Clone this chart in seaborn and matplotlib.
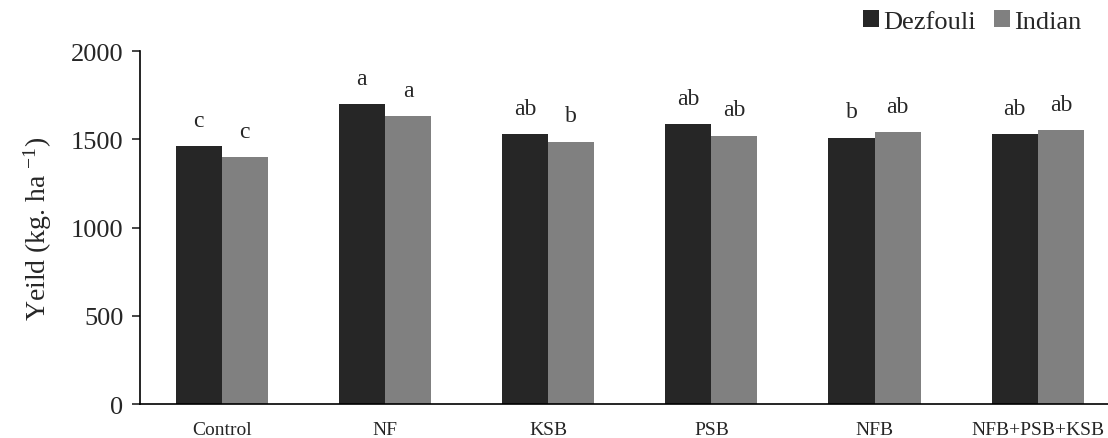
import matplotlib
matplotlib.use("Agg")
import matplotlib.pyplot as plt
import seaborn as sns
import pandas as pd

categories = ["Control", "NF", "KSB", "PSB", "NFB", "NFB+PSB+KSB"]
dezfouli = [1463, 1700, 1530, 1586, 1509, 1530]
indian = [1398, 1630, 1486, 1520, 1541, 1552]
letters_dezfouli = ["c", "a", "ab", "ab", "b", "ab"]
letters_indian = ["c", "a", "b", "ab", "ab", "ab"]
series = ["Dezfouli", "Indian"]
colors = ["#262626", "#808080"]

df = pd.DataFrame({
    "Treatment": categories * 2,
    "Cultivar": [series[0]] * len(categories) + [series[1]] * len(categories),
    "Yield": dezfouli + indian,
})

sns.set_style("white")
plt.rcParams["font.family"] = ["Liberation Serif", "DejaVu Serif"]
plt.rcParams["mathtext.fontset"] = "custom"
plt.rcParams["mathtext.rm"] = "Liberation Serif"
plt.rcParams["mathtext.it"] = "Liberation Serif"
plt.rcParams["mathtext.default"] = "regular"

fig = plt.figure(figsize=(11.08, 4.39), dpi=100)
ax = fig.add_axes([0.1264, 0.0774, 0.8736, 0.8041])

sns.barplot(data=df, x="Treatment", y="Yield", hue="Cultivar", order=categories,
            hue_order=series, palette=colors, width=0.565, saturation=1,
            edgecolor="none", ax=ax, legend=True)

for cont, labs in zip(ax.containers, [letters_dezfouli, letters_indian]):
    for bar, lab in zip(cont, labs):
        ax.annotate(lab, (bar.get_x() + bar.get_width() / 2, bar.get_height()),
                    xytext=(0, 11), textcoords="offset points",
                    ha="center", va="bottom", fontsize=17)

ax.set_ylim(0, 2000)
ax.set_yticks([0, 500, 1000, 1500, 2000])
ax.set_xlim(-0.5, 5.43)
ax.set_xlabel("")
ax.set_ylabel("Yeild (kg. ha $^{-1}$)", fontsize=20, labelpad=12)
ax.tick_params(axis="y", labelsize=19, length=6, width=1.2, direction="out", left=True, pad=6)
ax.tick_params(axis="x", labelsize=14, length=0, pad=12)
for s in ["top", "right"]:
    ax.spines[s].set_visible(False)
for s in ["left", "bottom"]:
    ax.spines[s].set_color("black")
    ax.spines[s].set_linewidth(1.2)

handles, labels = ax.get_legend_handles_labels()
ax.get_legend().remove()
fig.legend(handles, labels, loc="upper right", bbox_to_anchor=(0.99, 1.01), ncol=2,
           frameon=False, fontsize=19, handlelength=0.6, handleheight=0.6,
           handletextpad=0.15, columnspacing=0.7, borderaxespad=0.2)

fig.savefig("out.png", dpi=100)
